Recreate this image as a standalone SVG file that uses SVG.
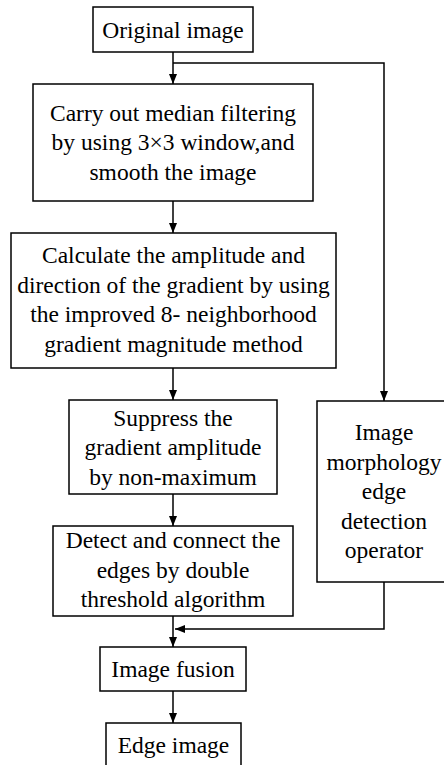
<svg xmlns="http://www.w3.org/2000/svg" width="444" height="765" viewBox="0 0 444 765">
<style>
.box{fill:#fff;stroke:#000;stroke-width:1.5}
.c{fill:none;stroke:#000;stroke-width:1.5}
.t{font-family:'Liberation Serif','Times New Roman',Times,serif;font-size:23.5px;fill:#000;text-anchor:middle}
</style>
<defs>
<marker id="ah" viewBox="0 0 10 8" refX="10" refY="4" markerWidth="10" markerHeight="8" markerUnits="userSpaceOnUse" orient="auto">
<path d="M0,0 L10,4 L0,8 Z" fill="#000"/>
</marker>
</defs>
<rect width="444" height="765" fill="#fff"/>
<g id="connectors">
<path class="c" d="M173,52 V84" marker-end="url(#ah)"/>
<path class="c" d="M173,63 H384 V401" marker-end="url(#ah)"/>
<path class="c" d="M173,201 V233" marker-end="url(#ah)"/>
<path class="c" d="M173,368 V400" marker-end="url(#ah)"/>
<path class="c" d="M173,494 V526" marker-end="url(#ah)"/>
<path class="c" d="M173,616 V647" marker-end="url(#ah)"/>
<path class="c" d="M384,582 V629 H175" marker-end="url(#ah)"/>
<path class="c" d="M173,691 V723" marker-end="url(#ah)"/>
</g>
<g id="n1">
<rect class="box" x="93" y="7" width="160" height="45"/>
<text class="t" x="173" y="37.5" font-family="Times New Roman, serif" style="font-family:'Liberation Serif','Times New Roman',serif">Original image</text>
</g>
<g id="n2">
<rect class="box" x="33" y="84" width="280" height="117"/>
<text class="t" x="173" y="120.5" style="font-family:'Liberation Serif','Times New Roman',serif">Carry out median filtering</text>
<text class="t" x="173" y="150" style="font-family:'Liberation Serif','Times New Roman',serif">by using 3×3 window,and</text>
<text class="t" x="173" y="179.5" style="font-family:'Liberation Serif','Times New Roman',serif">smooth the image</text>
</g>
<g id="n3">
<rect class="box" x="11" y="233" width="325" height="135"/>
<text class="t" x="173.5" y="263" style="font-family:'Liberation Serif','Times New Roman',serif">Calculate the amplitude and</text>
<text class="t" x="173.5" y="292.5" style="font-family:'Liberation Serif','Times New Roman',serif">direction of the gradient by using</text>
<text class="t" x="173.5" y="322" style="font-family:'Liberation Serif','Times New Roman',serif">the improved 8- neighborhood</text>
<text class="t" x="173.5" y="351.5" style="font-family:'Liberation Serif','Times New Roman',serif">gradient magnitude method</text>
</g>
<g id="n4">
<rect class="box" x="69" y="400" width="208" height="94"/>
<text class="t" x="173" y="425.5" style="font-family:'Liberation Serif','Times New Roman',serif">Suppress the</text>
<text class="t" x="173" y="455" style="font-family:'Liberation Serif','Times New Roman',serif">gradient amplitude</text>
<text class="t" x="173" y="484.5" style="font-family:'Liberation Serif','Times New Roman',serif">by non-maximum</text>
</g>
<g id="n5">
<rect class="box" x="317" y="401" width="134" height="181"/>
<text class="t" x="384" y="440" style="font-family:'Liberation Serif','Times New Roman',serif">Image</text>
<text class="t" x="384" y="469.5" style="font-family:'Liberation Serif','Times New Roman',serif">morphology</text>
<text class="t" x="384" y="499" style="font-family:'Liberation Serif','Times New Roman',serif">edge</text>
<text class="t" x="384" y="528.5" style="font-family:'Liberation Serif','Times New Roman',serif">detection</text>
<text class="t" x="384" y="558" style="font-family:'Liberation Serif','Times New Roman',serif">operator</text>
</g>
<g id="n6">
<rect class="box" x="53" y="526" width="240" height="90"/>
<text class="t" x="173" y="548" style="font-family:'Liberation Serif','Times New Roman',serif">Detect and connect the</text>
<text class="t" x="173" y="577.5" style="font-family:'Liberation Serif','Times New Roman',serif">edges by double</text>
<text class="t" x="173" y="607" style="font-family:'Liberation Serif','Times New Roman',serif">threshold algorithm</text>
</g>
<g id="n7">
<rect class="box" x="100" y="647" width="146" height="44"/>
<text class="t" x="173" y="677" style="font-family:'Liberation Serif','Times New Roman',serif">Image fusion</text>
</g>
<g id="n8">
<rect class="box" x="106" y="723" width="135" height="46"/>
<text class="t" x="173.5" y="752.5" style="font-family:'Liberation Serif','Times New Roman',serif">Edge image</text>
</g>
</svg>
